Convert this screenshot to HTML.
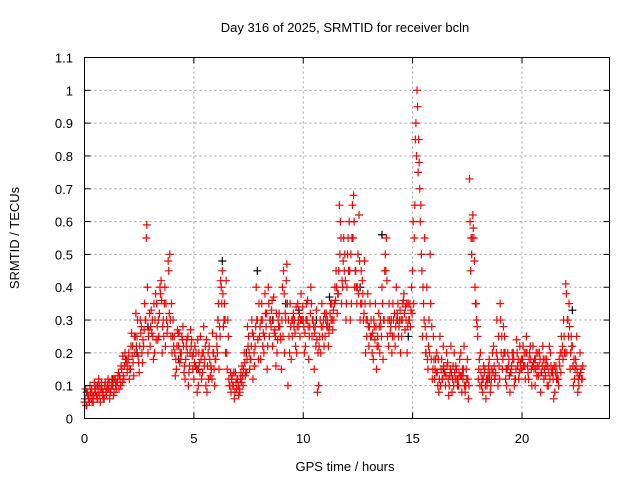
<!DOCTYPE html>
<html><head><meta charset="utf-8"><style>
body{margin:0;background:#fff}
svg{display:block;font-family:"Liberation Sans",sans-serif;font-size:13px}
</style></head><body>
<svg id="chart" width="640" height="480">
<text x="345" y="32" text-anchor="middle">Day 316 of 2025, SRMTID for receiver bcln</text>
<text x="345" y="471" text-anchor="middle">GPS time / hours</text>
<text transform="translate(19,238) rotate(-90)" text-anchor="middle">SRMTID / TECUs</text>
<g id="grid"></g><g id="marks"></g>
<rect x="84.5" y="57.5" width="525" height="361" fill="none" stroke="#000" stroke-width="1"/>
<g id="ticks"></g>
</svg>
<script>
const xTicks=[0,5,10,15,20];
const yTicks=[0,0.1,0.2,0.3,0.4,0.5,0.6,0.7,0.8,0.9,1,1.1];
const yTickLabels=["0","0.1","0.2","0.3","0.4","0.5","0.6","0.7","0.8","0.9","1","1.1"];
const times=[0,0.1,0.2,0.3,0.4,0.5,0.6,0.7,0.8,0.9,1,1.1,1.2,1.3,1.4,1.5,1.6,1.7,1.8,1.9,2,2.1,2.2,2.3,2.4,2.5,2.6,2.7,2.8,2.9,3,3.1,3.2,3.3,3.4,3.5,3.6,3.7,3.8,3.9,4,4.1,4.2,4.3,4.4,4.5,4.6,4.7,4.8,4.9,5,5.1,5.2,5.3,5.4,5.5,5.6,5.7,5.8,5.9,6,6.1,6.2,6.3,6.4,6.5,6.6,6.7,6.8,6.9,7,7.1,7.2,7.3,7.4,7.5,7.6,7.7,7.8,7.9,8,8.1,8.2,8.3,8.4,8.5,8.6,8.7,8.8,8.9,9,9.1,9.2,9.3,9.4,9.5,9.6,9.7,9.8,9.9,10,10.1,10.2,10.3,10.4,10.5,10.6,10.7,10.8,10.9,11,11.1,11.2,11.3,11.4,11.5,11.6,11.7,11.8,11.9,12,12.1,12.2,12.3,12.4,12.5,12.6,12.7,12.8,12.9,13,13.1,13.2,13.3,13.4,13.5,13.6,13.7,13.8,13.9,14,14.1,14.2,14.3,14.4,14.5,14.6,14.7,14.8,14.9,15,15.1,15.2,15.3,15.4,15.5,15.6,15.7,15.8,15.9,16,16.1,16.2,16.3,16.4,16.5,16.6,16.7,16.8,16.9,17,17.1,17.2,17.3,17.4,17.5,17.6,17.7,17.8,17.9,18,18.1,18.2,18.3,18.4,18.5,18.6,18.7,18.8,18.9,19,19.1,19.2,19.3,19.4,19.5,19.6,19.7,19.8,19.9,20,20.1,20.2,20.3,20.4,20.5,20.6,20.7,20.8,20.9,21,21.1,21.2,21.3,21.4,21.5,21.6,21.7,21.8,21.9,22,22.1,22.2,22.3,22.4,22.5,22.6,22.7];
const valsA=[.05,.04,.07,.06,.05,.08,.06,.07,.09,.06,.07,.09,.08,.1,.12,.11,.13,.15,.12,.17,.18,.15,.22,.2,.25,.14,.28,.22,.3,.2,.22,.3,.2,.35,.25,.42,.3,.22,.28,.5,.2,.25,.15,.22,.18,.28,.12,.2,.16,.24,.12,.2,.1,.25,.14,.18,.08,.22,.15,.2,.18,.3,.25,.45,.35,.2,.12,.08,.1,.14,.12,.08,.16,.2,.14,.25,.18,.12,.22,.3,.25,.35,.2,.28,.4,.3,.22,.27,.2,.32,.15,.45,.3,.1,.35,.25,.3,.2,.28,.38,.3,.22,.36,.28,.25,.15,.33,.1,.2,.28,.25,.3,.28,.35,.3,.45,.38,.6,.4,.5,.4,.6,.35,.68,.45,.5,.3,.42,.48,.25,.22,.3,.18,.35,.25,.2,.4,.3,.55,.22,.28,.35,.22,.32,.3,.25,.38,.3,.35,.28,.45,.65,1.0,.78,.5,.35,.2,.15,.5,.12,.12,.2,.08,.15,.22,.1,.17,.13,.08,.2,.15,.1,.2,.12,.08,.18,.73,.5,.55,.35,.12,.2,.08,.15,.1,.18,.12,.22,.14,.1,.35,.15,.25,.1,.18,.14,.2,.12,.16,.22,.15,.2,.25,.12,.18,.22,.1,.16,.2,.14,.12,.16,.1,.2,.15,.08,.14,.18,.25,.3,.41,.3,.15,.22,.12,.25,.1,.15];
const valsB=[.09,.07,.1,.05,.11,.07,.12,.09,.08,.11,.1,.06,.12,.08,.09,.14,.1,.19,.2,.14,.12,.26,.13,.32,.19,.3,.17,.35,.59,.27,.33,.18,.38,.24,.4,.2,.35,.3,.45,.25,.3,.13,.27,.17,.25,.14,.22,.1,.27,.15,.22,.08,.17,.12,.28,.1,.2,.13,.26,.1,.22,.15,.4,.28,.2,.3,.1,.13,.06,.09,.07,.14,.1,.13,.28,.15,.3,.2,.4,.18,.18,.22,.38,.15,.25,.33,.37,.16,.3,.25,.4,.2,.47,.25,.18,.32,.22,.35,.25,.3,.2,.35,.18,.4,.3,.28,.08,.25,.35,.22,.32,.22,.35,.27,.4,.32,.65,.35,.55,.3,.55,.3,.65,.4,.35,.62,.45,.3,.2,.38,.35,.2,.28,.15,.32,.28,.18,.5,.25,.3,.2,.25,.4,.25,.2,.35,.27,.2,.3,.4,.35,.9,.75,.6,.25,.55,.4,.3,.18,.25,.18,.1,.25,.12,.14,.2,.07,.22,.16,.12,.1,.18,.08,.22,.15,.06,.45,.62,.4,.28,.18,.1,.16,.06,.14,.08,.2,.12,.3,.16,.2,.28,.12,.2,.08,.2,.1,.24,.12,.15,.22,.12,.16,.2,.1,.15,.2,.13,.08,.22,.18,.1,.22,.14,.06,.16,.12,.2,.22,.2,.2,.35,.25,.1,.18,.08,.2,.12];
const valsC=[.06,.08,.05,.09,.07,.1,.08,.05,.07,.1,.09,.11,.1,.07,.1,.13,.12,.11,.16,.18,.2,.22,.17,.25,.3,.22,.2,.27,.55,.25,.28,.25,.3,.28,.32,.36,.25,.35,.48,.3,.25,.2,.22,.26,.2,.22,.18,.25,.2,.19,.17,.15,.2,.18,.2,.22,.16,.18,.12,.15,.25,.35,.42,.38,.3,.15,.1,.12,.14,.11,.1,.12,.13,.17,.18,.2,.22,.25,.28,.24,.28,.3,.25,.32,.35,.28,.3,.25,.24,.28,.3,.38,.42,.3,.28,.3,.26,.28,.32,.3,.28,.3,.28,.32,.3,.26,.24,.22,.28,.3,.3,.28,.32,.3,.35,.4,.45,.55,.48,.42,.5,.45,.55,.6,.4,.38,.35,.38,.35,.3,.28,.25,.3,.28,.22,.3,.35,.45,.42,.35,.3,.3,.28,.35,.33,.3,.32,.35,.3,.33,.6,.85,.95,.7,.45,.3,.25,.22,.35,.15,.15,.14,.12,.18,.16,.13,.12,.15,.12,.14,.12,.14,.13,.15,.1,.12,.6,.55,.48,.3,.15,.14,.12,.1,.12,.14,.15,.16,.2,.25,.3,.18,.2,.15,.13,.16,.18,.15,.18,.17,.18,.16,.2,.18,.15,.17,.15,.2,.18,.16,.15,.18,.14,.16,.12,.14,.12,.16,.2,.25,.38,.25,.2,.16,.15,.14,.13,.12];
const valsD=[.04,.06,.08,.07,.09,.06,.1,.11,.06,.08,.12,.08,.1,.12,.11,.09,.16,.13,.18,.16,.15,.19,.25,.22,.17,.26,.24,.3,.4,.32,.26,.35,.24,.3,.38,.28,.4,.26,.32,.35,.22,.18,.26,.2,.24,.16,.24,.14,.22,.2,.16,.24,.14,.2,.16,.24,.12,.16,.2,.18,.2,.28,.35,.3,.42,.25,.14,.1,.08,.12,.09,.11,.15,.14,.22,.18,.26,.16,.3,.35,.3,.26,.32,.22,.3,.36,.26,.32,.28,.24,.25,.32,.35,.2,.3,.28,.34,.3,.3,.34,.26,.3,.25,.35,.28,.22,.2,.3,.25,.32,.28,.26,.3,.33,.36,.38,.5,.42,.45,.35,.45,.5,.55,.45,.4,.48,.35,.32,.3,.28,.25,.26,.24,.22,.28,.25,.3,.45,.3,.26,.25,.32,.3,.28,.3,.36,.34,.28,.35,.32,.55,.8,.85,.65,.4,.28,.18,.2,.28,.18,.14,.18,.1,.12,.14,.16,.1,.14,.1,.16,.12,.13,.15,.1,.12,.1,.55,.58,.35,.25,.1,.12,.14,.12,.16,.1,.14,.13,.18,.12,.25,.2,.15,.16,.14,.18,.12,.2,.14,.18,.16,.2,.14,.22,.16,.18,.13,.16,.14,.18,.13,.16,.12,.14,.16,.12,.1,.14,.18,.2,.3,.28,.22,.18,.16,.12,.14,.16];
const blackTimes=[0.1,0.6,1.3,2.4,2.9,3.4,4.3,5.2,6.1,6.3,7.4,7.9,8.6,9.2,9.8,10.6,11.2,12.1,12.6,13.6,14.3,14.8,15.6,16.4,17.3,18.5,19.3,20.6,21.4,22.3];
const blackVals=[0.08,0.1,0.12,0.2,0.28,0.25,0.18,0.15,0.3,0.48,0.2,0.45,0.3,0.35,0.33,0.3,0.37,0.45,0.4,0.56,0.3,0.25,0.2,0.15,0.13,0.12,0.15,0.18,0.14,0.33];
const X0=84.5,X1=609.5,Y0=418.5,Y1=57.5,XMAX=24,YMAX=1.1;
function xs(v){return X0+(X1-X0)*v/XMAX;}
function ys(v){return Y0-(Y0-Y1)*v/YMAX;}
const NS='http://www.w3.org/2000/svg';
const grid=document.getElementById('grid'),ticks=document.getElementById('ticks'),marks=document.getElementById('marks');
function mk(tag,attrs,parent){const e=document.createElementNS(NS,tag);for(const k in attrs)e.setAttribute(k,attrs[k]);parent.appendChild(e);return e;}
yTicks.forEach((v,i)=>{
  const y=ys(v);
  if(i>0&&i<yTicks.length-1){const g=mk('line',{x1:X0,x2:X1,y1:y,y2:y,stroke:'#a0a0a0','stroke-dasharray':'2,3'},grid);
  
  }
  mk('line',{x1:X0,x2:X0+6,y1:y,y2:y,stroke:'#000'},ticks);
  mk('line',{x1:X1,x2:X1-6,y1:y,y2:y,stroke:'#000'},ticks);
  const t=mk('text',{x:73,y:y+5,'text-anchor':'end'},ticks);t.textContent=yTickLabels[i];
  
  
});
xTicks.forEach(v=>{
  const x=xs(v);
  if(v>0){const g=mk('line',{x1:x,x2:x,y1:Y0,y2:Y1,stroke:'#a0a0a0','stroke-dasharray':'2,3'},grid);
  
  }
  mk('line',{x1:x,x2:x,y1:Y0,y2:Y0-6,stroke:'#000'},ticks);
  mk('line',{x1:x,x2:x,y1:Y1,y2:Y1+6,stroke:'#000'},ticks);
  const t=mk('text',{x:x,y:443,'text-anchor':'middle'},ticks);t.textContent=String(v);
  
  
});
function cross(t,v,color,name){
  const x=xs(t),y=ys(v),s=4;
  const p=mk('path',{d:`M${x-s},${y}H${x+s}M${x},${y-s}V${y+s}`,stroke:color,'stroke-width':1.2,fill:'none'},marks);
  
  
}
blackTimes.forEach((t,i)=>cross(t,blackVals[i],'#000','black-point'));
times.forEach((t,i)=>{
  cross(t,valsA[i],'#f00','red-point');
  cross(t+0.025,valsC[i],'#f00','red-point');
  cross(t+0.05,valsB[i],'#f00','red-point');
  cross(t+0.075,valsD[i],'#f00','red-point');
});
</script>
</body></html>
